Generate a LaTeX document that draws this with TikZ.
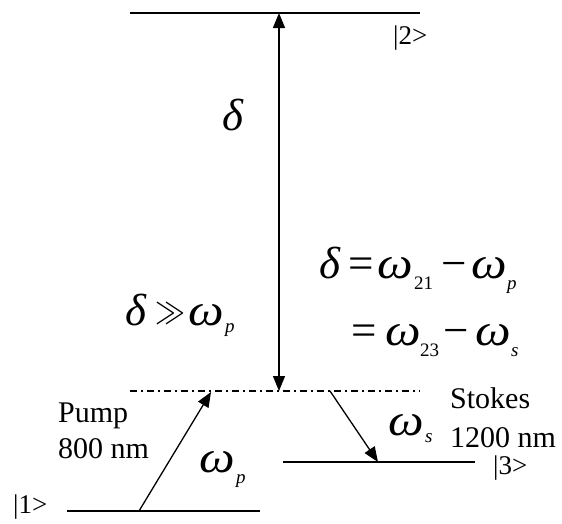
\documentclass[tikz,border=0pt]{standalone}
\usepackage{fontspec}
\setmainfont{Liberation Serif}
\usetikzlibrary{arrows.meta}
\newcommand\wideom{\scalebox{1.12}[1]{ω}}
\begin{document}
\begin{tikzpicture}[x=1pt,y=-1pt,
  level/.style={line width=1.6pt},
  arr/.style={line width=1.3pt,-{Triangle[length=15pt,width=12pt]}},
  darr/.style={line width=1.3pt,{Triangle[length=15pt,width=12pt]}-{Triangle[length=15pt,width=12pt]}},
  virt/.style={line width=1.1pt,dash pattern=on 7pt off 4pt on 2pt off 4pt},
  lbl/.style={font=\fontsize{27}{27}\selectfont,inner sep=0pt},
  txt/.style={font=\fontsize{30}{30}\selectfont,inner sep=0pt,anchor=base west},
  mth/.style={font=\fontsize{45}{45}\selectfont\itshape,inner sep=0pt,anchor=base west},
  mop/.style={font=\fontsize{45}{45}\selectfont,inner sep=0pt,anchor=base west},
  sub/.style={font=\fontsize{19}{19}\selectfont,inner sep=0pt,anchor=base west},
  isub/.style={font=\fontsize{19}{19}\selectfont\itshape,inner sep=0pt,anchor=base west}]
\useasboundingbox (0,0) rectangle (562,523);
% levels
\coordinate (L2a) at (130,13); \coordinate (L2b) at (420,13);
\coordinate (Va) at (130,391); \coordinate (Vb) at (420,391);
\coordinate (L1a) at (67,511); \coordinate (L1b) at (260,511);
\coordinate (L3a) at (283,462); \coordinate (L3b) at (475,462);
\draw[level] (L2a) -- (L2b);
\draw[level] (L1a) -- (L1b);
\draw[level] (L3a) -- (L3b);
\draw[virt] (Va) -- (Vb);
% arrows
\coordinate (top) at (279,13); \coordinate (vbot) at (279,391);
\draw[darr] (vbot) -- (top);
\coordinate (p1) at (139,511); \coordinate (p2) at (211,392);
\draw[arr] (p1) -- (p2);
\coordinate (s1) at (330,391); \coordinate (s2) at (378,462);
\draw[arr] (s1) -- (s2);
% state labels
\node[lbl,anchor=mid west] (k1) at (13,511) {|1>};
\node[lbl,anchor=mid west] (k2) at (393,42) {|2>};
\node[lbl,anchor=mid west] (k3) at (493,472) {|3>};
% text
\node[txt] (pump) at (58,422) {Pump};
\node[txt] (pumpnm) at (58,458) {800 nm};
\node[txt] (stokes) at (450,408) {Stokes};
\node[txt] (stokesnm) at (450,447) {1200 nm};
% math
\node[mth] (delta) at (222,130) {δ};
\node[mth] (wp) at (199,472) {\wideom};
\node[isub] (wpsub) at (236,483) {p};
\node[mth] (ws) at (388,435) {\wideom};
\node[isub] (wssub) at (425,442) {s};
% delta >> omega_p
\node[mth] (ggd) at (125,325) {δ};
\node[mop] (ggop) at (155,322) {\scalebox{1.2}[1.45]{$\gg$}};
\node[mth] (ggw) at (188,325) {\wideom};
\node[isub] (ggp) at (225,332) {p};
% delta = omega_21 - omega_p
\node[mth] (e1d) at (319,278) {δ};
\node[mop] (e1eq) at (348,278) {=};
\node[mth] (e1w) at (377,278) {\wideom};
\node[sub] (e1s) at (414,289) {21};
\node[mop] (e1m) at (441,278) {−};
\node[mth] (e1w2) at (471,278) {\wideom};
\node[isub] (e1p) at (507,289) {p};
% = omega_23 - omega_s
\node[mop] (e2eq) at (351,345) {=};
\node[mth] (e2w) at (385,345) {\wideom};
\node[sub] (e2s) at (420,356) {23};
\node[mop] (e2m) at (443,345) {−};
\node[mth] (e2w2) at (475,345) {\wideom};
\node[isub] (e2p) at (511,356) {s};
\end{tikzpicture}
\end{document}
